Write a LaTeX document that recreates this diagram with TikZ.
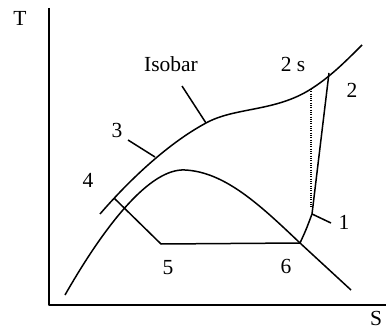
\documentclass[tikz,border=0pt]{standalone}
\usepackage{fontspec}
\setmainfont{Liberation Serif}
\begin{document}
\begin{tikzpicture}[x=1pt,y=-1pt,
  line/.style={line width=1.5pt, line join=round},
  lbl/.style={font=\fontsize{21.5}{24}\selectfont, inner sep=0pt, anchor=base}]
\useasboundingbox (0,0) rectangle (386,329);
% axes
\coordinate (o) at (49,305);
\coordinate (ty) at (49,8);
\coordinate (sx) at (386,305);
\draw[line] (ty) -- (o) -- (sx);
% state points
\coordinate (p1) at (312,214);
\coordinate (p2) at (329,73);
\coordinate (p2s) at (311,89);
\coordinate (p3) at (155,157);
\coordinate (p4) at (114,198);
\coordinate (p5) at (161,244);
\coordinate (p6) at (300,243);
\coordinate (piso) at (206,123);
\coordinate (t3) at (128,140);
\coordinate (tiso) at (182,86);
\coordinate (t1) at (331,223);
\coordinate (d2s) at (311,208);
\coordinate (dstart) at (65,295);
\coordinate (dtop) at (185,170);
\coordinate (dend) at (351,290);
\coordinate (istart) at (100,214);
\coordinate (iend) at (362,45);
% saturation dome
\draw[line] (dstart) .. controls (105,225) and (150,168) .. (dtop)
  .. controls (225,172) and (260,205) .. (p6) -- (dend);
% isobar
\draw[line] (istart) .. controls (125,185) and (165,145) .. (piso)
  .. controls (235,107) and (275,112) .. (p2s)
  .. controls (330,77) and (345,62) .. (iend);
% cycle lines
\draw[line] (p4) -- (p5) -- (p6);
\draw[line] (p6) .. controls (306,230) .. (p1) -- (p2);
\draw[line width=1.2pt, dash pattern=on 1pt off 1.3pt] (p2s) -- (d2s);
% ticks
\draw[line] (t3) -- (p3);
\draw[line] (tiso) -- (piso);
\draw[line] (p1) -- (t1);
% labels
\node[lbl] (lT) at (20,26) {T};
\node[lbl] (lS) at (376,325.5) {S};
\node[lbl] (lIso) at (171,72) {Isobar};
\node[lbl] (l2s) at (293,72) {2 s};
\node[lbl] (l2) at (352,98) {2};
\node[lbl] (l3) at (117,137) {3};
\node[lbl] (l4) at (88,187) {4};
\node[lbl] (l5) at (168,274) {5};
\node[lbl] (l6) at (286,273) {6};
\node[lbl] (l1) at (344,229) {1};
\end{tikzpicture}
\end{document}
